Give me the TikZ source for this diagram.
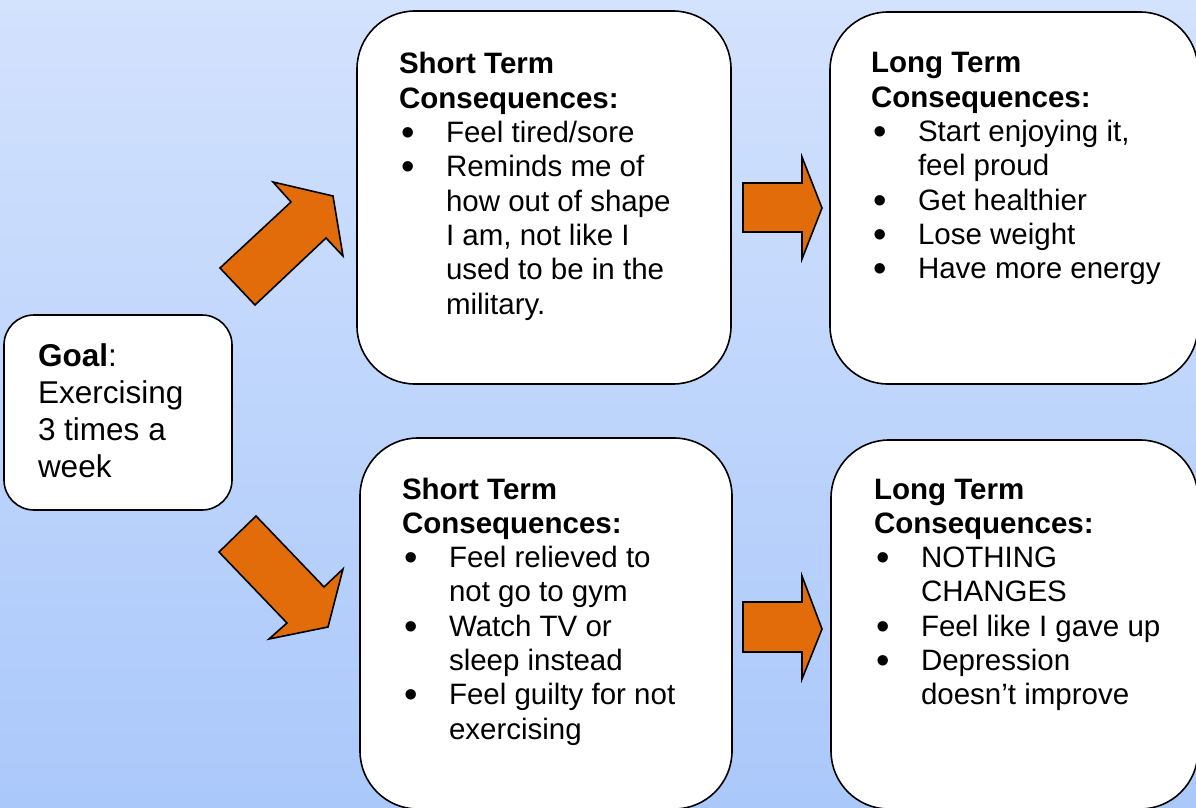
\documentclass[tikz,border=0pt]{standalone}
\usepackage{fontspec}
\setmainfont{Liberation Sans}
\definecolor{bgtop}{RGB}{211,226,253}
\definecolor{bgbot}{RGB}{170,200,250}
\definecolor{arroworange}{RGB}{227,108,10}
\newcommand\bigbullet{\smash{\raisebox{-3pt}{\scalebox{1.3}{\textbullet}}}}
\newcommand\bitem[1]{\par\hangindent=47pt\hangafter=1\makebox[47pt][l]{\hspace{2pt}\bigbullet}#1}
\newcommand\boxtext[1]{\parbox[t]{360pt}{\raggedright\parindent=0pt\parskip=0pt\fontsize{29.5}{34.3}\selectfont #1}}
\tikzset{
  cbox/.style={draw=black, line width=1.6pt, fill=white, rounded corners=58pt},
  gbox/.style={draw=black, line width=1.6pt, fill=white, rounded corners=30pt},
  btext/.style={anchor=base west, inner sep=0pt, outer sep=0pt},
  blockarrow/.style={draw=black, line width=1.6pt, fill=arroworange, line join=miter}
}
\begin{document}
\begin{tikzpicture}[x=1pt,y=-1pt]
\useasboundingbox (0,0) rectangle (1196,808);
\clip (0,0) rectangle (1196,808);
\shade[top color=bgtop, bottom color=bgbot] (0,0) rectangle (1196,808);

% boxes
\draw[gbox] (4,315) rectangle (232,510);
\draw[cbox] (357,11) rectangle (731,384);
\draw[cbox] (360,438) rectangle (732,809);
\draw[cbox] (830,12) rectangle (1198,384);
\draw[cbox] (831,440) rectangle (1198,809);

% arrows
\draw[blockarrow] (220,268) -- (291,202) -- (273,182) -- (333,196) -- (343,256) -- (326,238) -- (255,305) -- cycle;
\draw[blockarrow] (256,516) -- (324,587) -- (343,569) -- (328,627) -- (269,639) -- (287,623) -- (219,552) -- cycle;
\draw[blockarrow] (743,183) -- (802,183) -- (802,157) -- (822,208) -- (802,259) -- (802,232) -- (743,232) -- cycle;
\draw[blockarrow] (743,602) -- (802,602) -- (802,576) -- (822,629) -- (802,679) -- (802,652) -- (743,652) -- cycle;

% texts
\node[btext] (goal) at (38,366) {\parbox[t]{200pt}{\raggedright\fontsize{31.5}{37.3}\selectfont
\textbf{Goal}:\\Exercising\\3 times a\\week}};

\node[btext] (st1) at (399,74) {\boxtext{\textbf{Short Term}\\\textbf{Consequences:}
\bitem{Feel tired/sore}
\bitem{Reminds me of\newline how out of shape\newline I am, not like I\newline used to be in the\newline military.}}};

\node[btext] (lt1) at (871,73) {\boxtext{\textbf{Long Term}\\\textbf{Consequences:}
\bitem{Start enjoying it,\newline feel proud}
\bitem{Get healthier}
\bitem{Lose weight}
\bitem{Have more energy}}};

\node[btext] (st2) at (402,499) {\boxtext{\textbf{Short Term}\\\textbf{Consequences:}
\bitem{Feel relieved to\newline not go to gym}
\bitem{Watch TV or\newline sleep instead}
\bitem{Feel guilty for not\newline exercising}}};

\node[btext] (lt2) at (874,499) {\boxtext{\textbf{Long Term}\\\textbf{Consequences:}
\bitem{NOTHING\newline CHANGES}
\bitem{Feel like I gave up}
\bitem{Depression\newline doesn’t improve}}};
\end{tikzpicture}
\end{document}
